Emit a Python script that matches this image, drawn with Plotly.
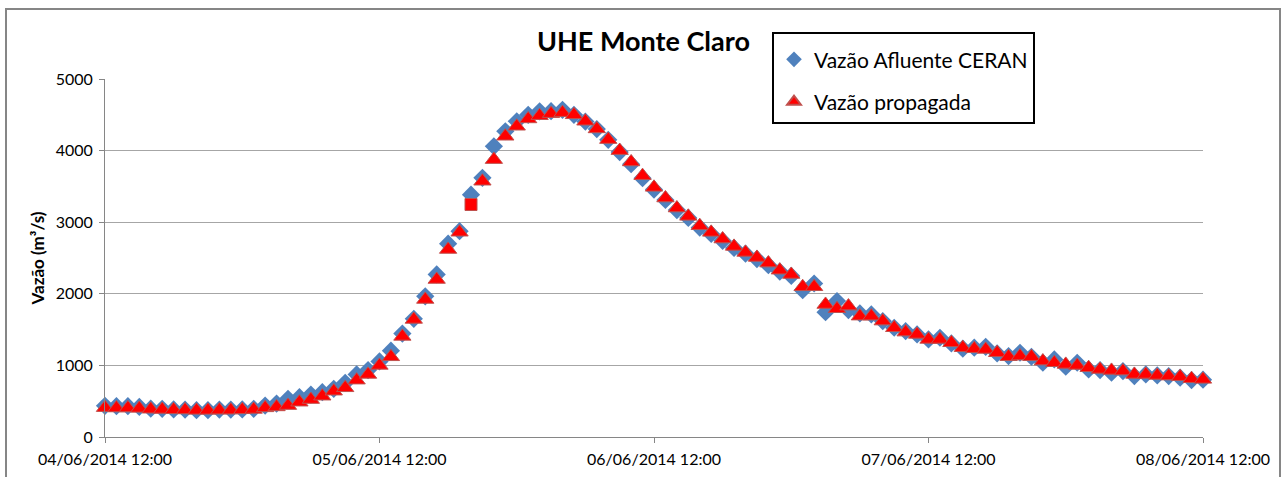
import pandas as pd
import plotly.graph_objects as go

# hourly timestamps 04/06/2014 12:00 -> 08/06/2014 12:00
times = pd.date_range("2014-06-04 12:00", "2014-06-08 12:00", freq="h")

afluente_ceran = [
    435, 430, 430, 420, 395, 393, 385, 383, 375, 375, 383, 383, 385, 393, 439, 467,
    533, 556, 593, 626, 673, 757, 874, 935, 1055, 1205, 1445, 1650, 1965, 2270,
    2700, 2875, 3385, 3620, 4060, 4270, 4410, 4500, 4548, 4550, 4570, 4500, 4405,
    4300, 4150, 3980, 3810, 3615, 3455, 3310, 3170, 3060, 2925, 2835, 2740, 2640,
    2560, 2485, 2400, 2310, 2250, 2050, 2144, 1744, 1898, 1772, 1726, 1712, 1619,
    1526, 1479, 1433, 1363, 1386, 1307, 1233, 1247, 1260, 1167, 1130, 1177, 1121,
    1037, 1084, 981, 1037, 944, 935, 898, 921, 851, 874, 860, 851, 828, 795, 800,
]

vazao_propagada = [
    410, 405, 405, 400, 388, 385, 380, 378, 372, 372, 375, 375, 380, 385, 407, 420,
    439, 486, 523, 570, 640, 687, 794, 874, 1000, 1120, 1405, 1642, 1921, 2200,
    2619, 2860, 3247, 3572, 3874, 4200, 4340, 4442, 4488, 4516, 4530, 4500, 4410,
    4303, 4154, 4000, 3841, 3650, 3487, 3338, 3198, 3082, 2951, 2858, 2765, 2662,
    2578, 2508, 2429, 2330, 2270, 2098, 2098, 1851, 1791, 1828, 1688, 1688, 1619,
    1526, 1465, 1433, 1363, 1363, 1316, 1247, 1233, 1223, 1177, 1121, 1130, 1121,
    1060, 1037, 1014, 1000, 967, 944, 930, 921, 874, 874, 860, 851, 842, 814, 805,
]

# one propagated point drawn with a square marker in the original
square_index = 32
prop_symbols = ["square" if i == square_index else "triangle-up" for i in range(len(vazao_propagada))]
prop_sizes = [12 if i == square_index else 15 for i in range(len(vazao_propagada))]

tick_vals = pd.date_range("2014-06-04 12:00", "2014-06-08 12:00", freq="D")
tick_text = [t.strftime("%d/%m/%Y %H:%M") for t in tick_vals]

FONT = "Lato, 'Open Sans', sans-serif"
GRID = "#A6A6A6"
AXIS = "#868686"

fig = go.Figure()
fig.add_trace(go.Scatter(
    x=times, y=afluente_ceran, mode="markers", name="Vazão Afluente CERAN",
    legendgroup="a",
    marker=dict(symbol="diamond", size=14, color="#4F81BD", opacity=1, line=dict(width=0)),
    cliponaxis=False,
))
fig.add_trace(go.Scatter(
    x=times, y=vazao_propagada, mode="markers", name="Vazão propagada",
    legendgroup="b",
    marker=dict(symbol=prop_symbols, size=prop_sizes, color="#FF0000", opacity=1,
                line=dict(width=1, color="#C0504D")),
    cliponaxis=False,
))

L, R, T, B = 105, 84, 79, 40
W, H = 1287, 477
pw, ph = W - L - R, H - T - B

def px_x(px):
    return (px - L) / pw

def px_y(py):
    return (H - B - py) / ph

fig.update_layout(
    width=W, height=H,
    margin=dict(l=L, r=R, t=T, b=B, pad=0, autoexpand=False),
    paper_bgcolor="white", plot_bgcolor="white",
    font=dict(family=FONT, size=16, color="#000000"),
    title=dict(text="<b>UHE Monte Claro</b>", x=0.5, xanchor="center",
               y=1 - 42 / H, yanchor="middle",
               font=dict(family=FONT, size=27, color="#000000")),
    showlegend=True,
    legend=dict(
        x=px_x(772), y=px_y(32), xanchor="left", yanchor="top",
        bordercolor="#000000", borderwidth=2, bgcolor="white",
        font=dict(family=FONT, size=21, color="#000000"),
        traceorder="grouped", tracegroupgap=12,
        itemsizing="constant", itemwidth=30,
        title=dict(text="&nbsp;", font=dict(size=4)),
    ),
    xaxis=dict(
        range=[times[0], times[-1]],
        tickmode="array", tickvals=tick_vals, ticktext=tick_text,
        showgrid=False, zeroline=False,
        showline=True, linecolor=AXIS, linewidth=1,
        ticks="outside", ticklen=5, tickcolor=AXIS,
        ticklabelstandoff=3,
        tickfont=dict(size=16, color="#000000"),
    ),
    yaxis=dict(
        range=[0, 5000], tickvals=[0, 1000, 2000, 3000, 4000, 5000],
        showgrid=True, gridcolor=GRID, gridwidth=1, zeroline=False,
        showline=True, linecolor=AXIS, linewidth=1,
        ticks="outside", ticklen=5, tickcolor=AXIS,
        ticklabelstandoff=3,
        tickfont=dict(size=16, color="#000000"),
        title=dict(text="<b>Vazão (m³/s)</b>", font=dict(family=FONT, size=17, color="#000000"),
                   standoff=6),
    ),
    shapes=[
        dict(type="rect", xref="paper", yref="paper",
             x0=px_x(6), x1=px_x(1280), y0=px_y(9), y1=px_y(520),
             line=dict(color=AXIS, width=2), fillcolor="rgba(0,0,0,0)", layer="below"),
    ],
)

fig.write_html("out.html", config={"displayModeBar": False},
               post_script="document.body.style.margin='0px';")
